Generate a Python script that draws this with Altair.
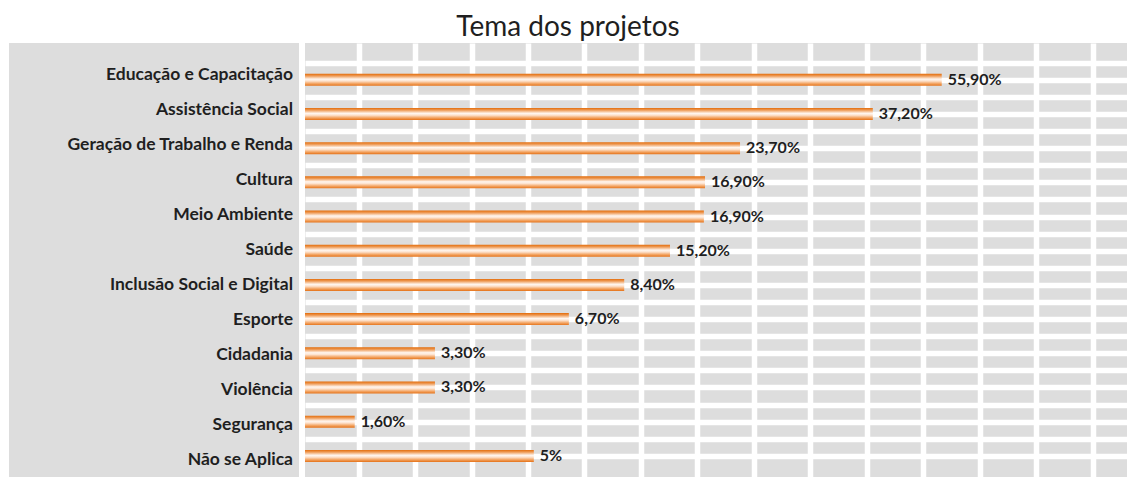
import altair as alt
import pandas as pd

# ---- data ----
temas = [
    "Educação e Capacitação", "Assistência Social", "Geração de Trabalho e Renda",
    "Cultura", "Meio Ambiente", "Saúde", "Inclusão Social e Digital", "Esporte",
    "Cidadania", "Violência", "Segurança", "Não se Aplica",
]
percentuais = [55.9, 37.2, 23.7, 16.9, 16.9, 15.2, 8.4, 6.7, 3.3, 3.3, 1.6, 5.0]
rotulos = ["55,90%", "37,20%", "23,70%", "16,90%", "16,90%", "15,20%",
           "8,40%", "6,70%", "3,30%", "3,30%", "1,60%", "5%"]
# bar lengths as drawn in the original (in grid-column units)
comprimento = [11.27, 10.05, 7.70, 7.08, 7.06, 6.46, 5.65, 4.67, 2.30, 2.30, 0.88, 4.05]

df = pd.DataFrame({
    "tema": temas,
    "pct": percentuais,
    "rotulo": rotulos,
    "comp": comprimento,
})
df["pos"] = range(len(df))

FONT = "Lato"
TXT = "#1f1f1f"
GRAY = "#dddddd"

y_dom = [-0.9286, 11.4714]
y_grid = [k * 0.5 for k in range(-1, 23)]
x_dom = [0, 14.549]
x_grid = [0.947 + k for k in range(14)]

y_scale = alt.Scale(domain=y_dom, reverse=True, nice=False, zero=False)

left = alt.Chart(df).mark_text(
    align="right", baseline="middle", font=FONT, fontWeight="bold",
    fontSize=17.5, color=TXT, dy=-1
).encode(
    x=alt.value(284),
    y=alt.Y("pos:Q", scale=y_scale, axis=None),
    text="tema:N",
).properties(width=290, height=434)

grad = alt.LinearGradient(
    gradient="linear", x1=0, x2=0, y1=0, y2=1,
    stops=[
        alt.GradientStop(offset=0.0, color="#e36c0a"),
        alt.GradientStop(offset=0.18, color="#ee9a55"),
        alt.GradientStop(offset=0.45, color="#fff6ef"),
        alt.GradientStop(offset=0.6, color="#fde3cf"),
        alt.GradientStop(offset=0.82, color="#f3a462"),
        alt.GradientStop(offset=1.0, color="#e5731a"),
    ],
)

base = alt.Chart(df).encode(
    y=alt.Y("pos:Q", scale=y_scale,
            axis=alt.Axis(values=y_grid, grid=True, gridColor="white", gridWidth=5.5,
                          gridOpacity=1, domain=False, ticks=False, labels=False, title=None)),
)

bars = base.mark_bar(orient="horizontal", size=12, fill=grad).encode(
    x=alt.X("comp:Q", scale=alt.Scale(domain=x_dom, nice=False, zero=True),
            axis=alt.Axis(values=x_grid, grid=True, gridColor="white", gridWidth=5.5,
                          gridOpacity=1, domain=False, ticks=False, labels=False, title=None)),
)

texts = base.mark_text(
    align="left", baseline="middle", dx=6, font=FONT, fontWeight="bold",
    fontSize=16, color=TXT
).encode(
    x=alt.X("comp:Q"),
    text="rotulo:N",
)

right = alt.layer(bars, texts).properties(width=822, height=434)

chart = alt.hconcat(left, right, spacing=6).properties(
    title=alt.TitleParams(
        "Tema dos projetos", anchor="middle", font=FONT, fontSize=28,
        fontWeight="normal", color=TXT, offset=1
    ),
    padding={"left": 1, "top": 6, "right": 0, "bottom": 0},
).configure_view(fill=GRAY, strokeWidth=0)

chart.save("out.html", embed_options={"renderer": "svg", "actions": False})
